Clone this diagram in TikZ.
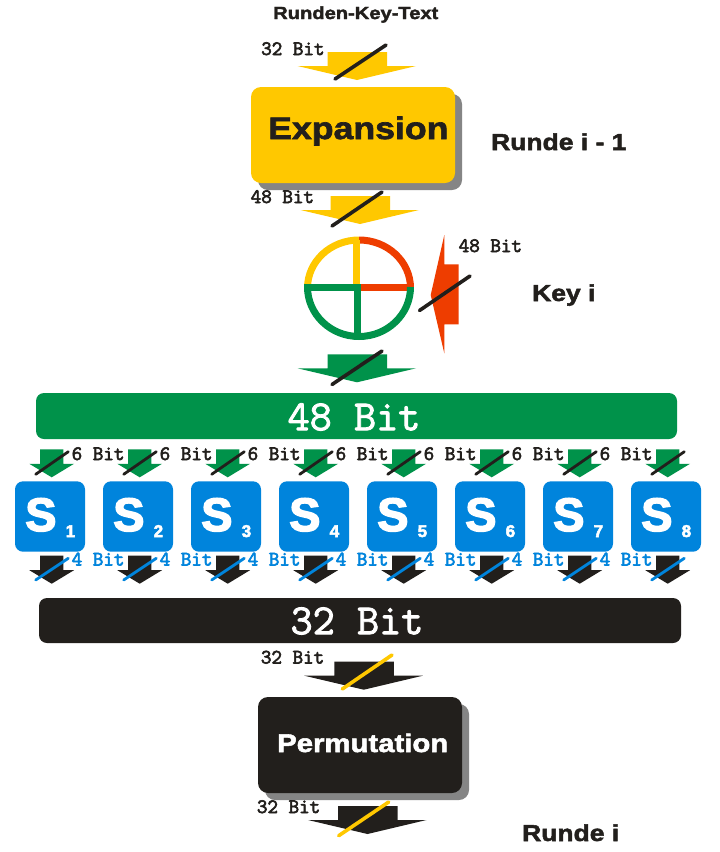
\documentclass[tikz,border=0pt]{standalone}
\usepackage{fontspec}
\setmainfont{Liberation Sans}
\newfontfamily\heavy[BoldFont={Liberation Sans Bold},BoldFeatures={FakeBold=2.2,FakeStretch=1.15}]{Liberation Sans}
\newfontfamily\heavyplain[BoldFont={Liberation Sans Bold},BoldFeatures={FakeBold=3}]{Liberation Sans}
\newfontfamily\monob[FakeBold=3]{Latin Modern Mono}
\newfontfamily\monobig[FakeBold=2]{Latin Modern Mono}
\definecolor{cyel}{HTML}{FFC800}
\definecolor{cred}{HTML}{EE3D00}
\definecolor{cgrn}{HTML}{00924A}
\definecolor{cblu}{HTML}{0084DC}
\definecolor{cblk}{HTML}{221F1C}
\definecolor{cgry}{HTML}{858585}
\newcommand{\hv}[1]{\fontsize{#1}{#1}\selectfont\heavy\bfseries}
\newcommand{\hp}[1]{\fontsize{#1}{#1}\selectfont\heavyplain\bfseries}
\newcommand{\mn}[1]{\fontsize{#1}{#1}\selectfont\monob}
\newcommand{\mb}[1]{\fontsize{#1}{#1}\selectfont\monobig}
\tikzset{
  x=1pt,y=-1pt,
  slash/.style={line width=3.6pt,line cap=round,color=cblk},
  txt/.style={inner sep=0pt,anchor=base west},
  bitlab/.style={txt,text=cblk,font=\mn{20.5}},
  smallbit/.style={txt,font=\mn{20.5}},
}
\newcommand{\bigarrow}[3]{\fill[#1] (#2+30,#3) -- (#2+89.5,#3) -- (#2+89.5,#3+14) -- (#2+118.5,#3+14) -- (#2+59.5,#3+28) -- (#2,#3+14) -- (#2+30,#3+14) -- cycle;}
\newcommand{\smallarrow}[3]{\fill[#1] (#2+10.7,#3) -- (#2+34,#3) -- (#2+34,#3+14.5) -- (#2+44.7,#3+14.5) -- (#2+22.4,#3+28) -- (#2,#3+14.5) -- (#2+10.7,#3+14.5) -- cycle;}
\begin{document}
\begin{tikzpicture}
\useasboundingbox (0,0) rectangle (720,852);
\fill[white] (0,0) rectangle (720,852);
% title
\node[txt,font=\hv{17.5},text=cblk] (title) at (273,19) {Runden-Key-Text};
% top arrow
\bigarrow{cyel}{297.5}{52}
\coordinate (a1s) at (335,79); \coordinate (a1e) at (386,45);
\draw[slash] (a1s) -- (a1e);
\node[bitlab] (l32a) at (261,55) {32 Bit};
% expansion
\fill[cgry,rounded corners=10pt] (258,94) rectangle (462,190);
\fill[cyel,rounded corners=10pt] (251,87) rectangle (455,183);
\node[txt,font=\hv{31},text=cblk] (expansion) at (268,139) {Expansion};
\node[txt,font=\hv{23},text=cblk] (r1) at (491,150) {Runde i - 1};
% second arrow
\bigarrow{cyel}{300.5}{196}
\coordinate (a2s) at (332,226); \coordinate (a2e) at (382,192);
\draw[slash] (a2s) -- (a2e);
\node[bitlab] (l48a) at (250.5,203) {48 Bit};
% xor
\begin{scope}[line width=7pt]
\draw[cyel] (307.5,288) arc[start angle=180,end angle=270,x radius=51.5,y radius=48];
\draw[cred] (359,240) arc[start angle=270,end angle=360,x radius=51.5,y radius=48];
\draw[cyel] (356.5,240) -- (356.5,286);
\draw[cred] (360,287.5) -- (411,287.5);
\draw[cgrn] (307.5,287) arc[start angle=180,end angle=0,x radius=51.5,y radius=49.5];
\draw[cgrn] (304,287.5) -- (361,287.5);
\draw[cgrn] (357.5,287) -- (357.5,334);
\end{scope}
% key arrow
\fill[cred] (444.3,235) -- (444.3,264.3) -- (458.7,264.3) -- (458.7,324.3) -- (444.3,324.3) -- (444.3,353.3) -- (430.7,295) -- cycle;
\coordinate (k1) at (419.5,310.5); \coordinate (k2) at (470,276);
\draw[slash] (k1) -- (k2);
\node[bitlab] (l48b) at (458.5,252) {48 Bit};
\node[txt,font=\hv{23},text=cblk] (keyi) at (532,301) {Key i};
% green arrow
\bigarrow{cgrn}{297.5}{354.3}
\coordinate (a3s) at (332,384.5); \coordinate (a3e) at (382,351);
\draw[slash] (a3s) -- (a3e);
% 48 bar
\fill[cgrn,rounded corners=8pt] (36,393) rectangle (677,439);
\node[font=\mb{43},text=white,inner sep=0pt] (b48) at (354,417) {48 Bit};
% s-boxes
\foreach \i [evaluate=\i as \dx using 88*(\i-1)] in {1,...,8}{
  \smallarrow{cgrn}{29.3+\dx}{449.3}
  \coordinate (gs\i) at (35.7+\dx,474.3); \coordinate (ge\i) at (68.3+\dx,451.7);
  \draw[line width=2.8pt,line cap=round,color=cblk] (gs\i) -- (ge\i);
  \fill[cblu,rounded corners=8pt] (15+\dx,481.3) rectangle (85+\dx,551.7);
  \node[txt,font=\hp{47},text=white] (s\i) at (25+\dx,531) {S};
  \node[txt,font=\hp{17},text=white] (n\i) at (65.5+\dx,537) {\i};
  \smallarrow{cblk}{29.3+\dx}{555.7}
  \coordinate (bs\i) at (35.7+\dx,580); \coordinate (be\i) at (68.3+\dx,558.3);
  \draw[line width=2.8pt,line cap=round,color=cblu] (bs\i) -- (be\i);
}
\foreach \i [evaluate=\i as \dx using 88*(\i-1)] in {1,...,7}{
  \node[smallbit,text=cblk] (six\i) at (71.5+\dx,460) {6 Bit};
  \node[smallbit,text=cblu] (four\i) at (71.5+\dx,565.5) {4 Bit};
}
% 32 bar
\fill[cblk,rounded corners=8pt] (39,598) rectangle (681,643);
\node[font=\mb{43},text=white,inner sep=0pt] (b32) at (357,621) {32 Bit};
% arrow to permutation
\bigarrow{cblk}{304.3}{661.7}
\coordinate (a4s) at (342.3,689); \coordinate (a4e) at (392,655);
\draw[slash,color=cyel] (a4s) -- (a4e);
\node[bitlab] (l32b) at (260.7,663.5) {32 Bit};
% permutation
\fill[cgry,rounded corners=10pt] (265,704) rectangle (469,800);
\fill[cblk,rounded corners=10pt] (258,697) rectangle (462,793);
\node[txt,font=\hv{25.5},text=white] (perm) at (277,752) {Permutation};
% last arrow
\bigarrow{cblk}{308}{806}
\coordinate (a5s) at (338.7,835.7); \coordinate (a5e) at (388.7,802);
\draw[slash,color=cyel] (a5s) -- (a5e);
\node[bitlab] (l32c) at (256.7,813) {32 Bit};
\node[txt,font=\hv{23},text=cblk] (ri) at (522,841) {Runde i};
\end{tikzpicture}
\end{document}
